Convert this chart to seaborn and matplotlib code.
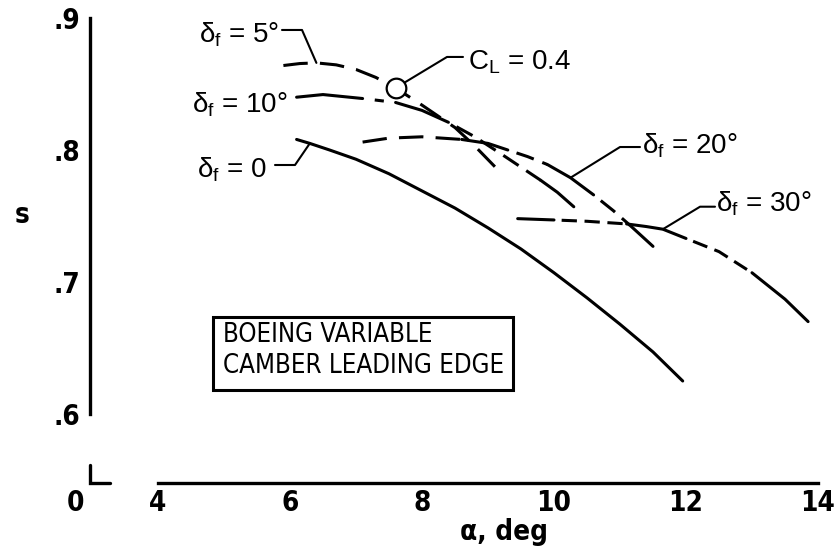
import matplotlib
matplotlib.use("Agg")
import matplotlib.pyplot as plt
from matplotlib import font_manager as fm
from matplotlib.patches import Rectangle
import pandas as pd
import seaborn as sns

# Suction parameter s against angle of attack for each leading-edge flap setting
alpha_f0 = [6.1, 6.3, 6.6, 7.0, 7.5, 8.0, 8.5, 9.0, 9.5, 10.0, 10.5, 11.0, 11.5, 11.95]
s_f0 = [0.808, 0.805, 0.800, 0.793, 0.782, 0.769, 0.756, 0.741, 0.725, 0.707, 0.688, 0.668, 0.647, 0.625]

alpha_f5 = [5.9, 6.15, 6.4, 6.7, 7.0, 7.3, 7.6, 8.0, 8.5, 8.8, 9.15]
s_f5 = [0.864, 0.8655, 0.866, 0.8645, 0.861, 0.855, 0.847, 0.834, 0.817, 0.803, 0.785]

alpha_f10 = [6.1, 6.5, 7.1, 7.6, 8.0, 8.4, 8.8, 9.2, 9.5, 9.8, 10.05, 10.3]
s_f10 = [0.840, 0.842, 0.839, 0.836, 0.830, 0.821, 0.810, 0.797, 0.787, 0.777, 0.768, 0.757]

alpha_f20 = [7.1, 7.5, 8.0, 8.6, 9.0, 9.3, 9.6, 9.9, 10.25, 10.6, 10.9, 11.15, 11.5]
s_f20 = [0.806, 0.809, 0.810, 0.808, 0.805, 0.800, 0.795, 0.789, 0.779, 0.766, 0.754, 0.743, 0.727]

alpha_f30 = [9.45, 10.0, 10.5, 11.1, 11.4, 11.65, 12.0, 12.5, 13.0, 13.5, 13.85]
s_f30 = [0.748, 0.747, 0.746, 0.744, 0.742, 0.740, 0.733, 0.723, 0.707, 0.687, 0.670]

# lift-coefficient point marked on the 5 deg curve
cl_alpha = 7.6
cl_s = 0.847
cl_value = "0.4"

flap_settings = ["0", "5°", "10°", "20°", "30°"]
x_ticks = [4, 6, 8, 10, 12, 14]
y_ticks = [0.6, 0.7, 0.8, 0.9]
y_tick_labels = [".6", ".7", ".8", ".9"]
note_text = "BOEING VARIABLE\nCAMBER LEADING EDGE"

curves = dict(zip(flap_settings, [(alpha_f0, s_f0), (alpha_f5, s_f5), (alpha_f10, s_f10),
                                  (alpha_f20, s_f20), (alpha_f30, s_f30)]))
df = pd.concat(
    [pd.DataFrame({"flap": k, "alpha": a, "s": s}) for k, (a, s) in curves.items()],
    ignore_index=True,
)

# solid / dashed pieces of each curve, as alpha ranges
line_pieces = {
    "0": [(6.1, 11.95, "solid")],
    "5°": [(5.9, 9.15, "long")],
    "10°": [(6.1, 7.1, "solid"), (7.1, 7.6, "sparse"), (7.6, 8.4, "solid"),
            (8.4, 9.8, "dash"), (9.8, 10.3, "solid")],
    "20°": [(7.1, 8.6, "long"), (8.6, 9.3, "solid"), (9.3, 9.9, "dash"),
            (9.9, 10.6, "solid"), (10.6, 11.15, "dash"), (11.15, 11.5, "solid")],
    "30°": [(9.45, 10.0, "solid"), (10.0, 11.1, "short"), (11.1, 12.0, "solid"),
            (12.0, 13.0, "short"), (13.0, 13.85, "solid")],
}
dash_patterns = {"long": (8, 4), "dash": (6, 3), "short": (5, 2.5), "sparse": (3, 4)}

DPI = 100
PX = 72 / DPI
LW = 2.2
BIG = 20

# narrow lettering if the system has a condensed face
_faces = fm.fontManager.ttflist
_names = {f.name for f in _faces}
if "Liberation Sans Narrow" in _names:
    NARROW = dict(family=["Liberation Sans Narrow", "DejaVu Sans"])
elif any(f.name == "DejaVu Sans" and f.stretch == "condensed" for f in _faces):
    NARROW = dict(family=["DejaVu Sans"], stretch="condensed")
elif "Roboto Condensed" in _names:
    NARROW = dict(family=["Roboto Condensed", "DejaVu Sans"])
else:
    NARROW = dict(family=["Liberation Sans", "DejaVu Sans"])
LABEL_FAMILY = ["Liberation Sans", "DejaVu Sans"]

sns.set_theme(style="white")
plt.rcParams.update({
    "font.family": NARROW["family"],
    "font.stretch": NARROW.get("stretch", "normal"),
    "mathtext.fontset": "custom",
    "mathtext.default": "regular",
    "mathtext.rm": "Liberation Sans",
    "mathtext.it": "Liberation Sans",
    "mathtext.bf": "Liberation Sans:bold",
    "text.color": "black",
    "axes.labelcolor": "black",
    "xtick.color": "black",
    "ytick.color": "black",
    "axes.edgecolor": "black",
    "axes.linewidth": 2.4,
})

fig = plt.figure(figsize=(8.4, 5.6), dpi=DPI)
ax = fig.add_axes([90 / 840, 77 / 560, 728 / 840, 465 / 560])
x_lim = (4 - 68 / 66, 14.0)
y_lim = (0.9 - 465 / 1320, 0.9)

for flap, pieces in line_pieces.items():
    sub = df[df["flap"] == flap]
    for i, (a0, a1, kind) in enumerate(pieces):
        seg = sub[(sub["alpha"] >= a0 - 1e-9) & (sub["alpha"] <= a1 + 1e-9)]
        if kind == "solid":
            ls = "-"
        else:
            on, off = dash_patterns[kind]
            ls = (on if i > 0 else 0, (on, off))
        sns.lineplot(data=seg, x="alpha", y="s", ax=ax, color="black",
                     linewidth=LW, linestyle=ls, estimator=None, sort=False,
                     legend=False)

sns.scatterplot(x=[cl_alpha], y=[cl_s], ax=ax, s=200, facecolor="white",
                edgecolor="black", linewidth=1.6, zorder=6, legend=False)


def leader(xy, start_px, angle, shrink_px=0.0):
    ax.annotate("", xy=xy, xytext=(start_px[0] * PX, start_px[1] * PX),
                textcoords="offset points",
                arrowprops=dict(arrowstyle="-", color="black", lw=1.5,
                                connectionstyle=f"angle,angleA=0,angleB={angle},rad=0",
                                shrinkA=0, shrinkB=shrink_px * PX))


def label(xy, text, off_px, ha):
    ax.annotate(text, xy=xy, xytext=(off_px[0] * PX, off_px[1] * PX),
                textcoords="offset points", ha=ha, va="baseline",
                fontsize=BIG, family=LABEL_FAMILY, stretch="normal")


def point(flap, idx):
    a, s = curves[flap]
    return (a[idx], s[idx])


delta = r"$\delta_f$ = "
label(point("0", 1), delta + flap_settings[0], (-42.8, -34.6), "right")
leader(point("0", 1), (-34.8, -21.6), -124.4)

label(point("5°", 2), delta + flap_settings[1], (-37.4, 19.9), "right")
leader(point("5°", 2), (-34.4, 32.9), 113.6)

label(point("10°", 0), delta + flap_settings[2], (-8.8, -15.8), "right")

label(point("20°", 8), delta + flap_settings[3], (71.5, 24.7), "left")
leader(point("20°", 8), (69.5, 30.7), 31.8)

label(point("30°", 5), delta + flap_settings[4], (53.0, 17.2), "left")
leader(point("30°", 5), (52.1, 22.5), 31.2)

label((cl_alpha, cl_s), r"$C_L$ = " + cl_value, (72.4, 18.0), "left")
leader((cl_alpha, cl_s), (67.4, 31.0), 31.1, shrink_px=10)

# note box
box_x0, box_x1 = 4 + (213 - 158) / 66, 4 + (513 - 158) / 66
box_y0, box_y1 = 0.9 - (390 - 18) / 1320, 0.9 - (317 - 18) / 1320
ax.add_patch(Rectangle((box_x0, box_y0), box_x1 - box_x0, box_y1 - box_y0,
                       fill=False, edgecolor="black", linewidth=2.2, zorder=4))
note = ax.text(box_x0 + 10 / 66, box_y1 - 5 / 1320, note_text, ha="left", va="top",
               fontsize=BIG, linespacing=1.27, zorder=5)

# axes: broken x-axis with the origin marked separately
ax.set_xlim(*x_lim)
ax.set_ylim(*y_lim)
sns.despine(ax=ax)
ax.spines["left"].set_bounds(0.6, 0.9)
ax.spines["bottom"].set_bounds(4, 14)
ax.set_xticks(x_ticks, labels=[str(t) for t in x_ticks], fontsize=BIG, fontweight="bold")
ax.set_yticks(y_ticks, labels=y_tick_labels, fontsize=BIG, fontweight="bold")
ax.tick_params(axis="both", direction="in", length=13.5, width=1.8, color="black")
ax.tick_params(axis="x", pad=4)
ax.tick_params(axis="y", pad=7)

ax.plot([x_lim[0], x_lim[0], x_lim[0] + 20 / 66],
        [y_lim[0] + 18 / 1320, y_lim[0], y_lim[0]],
        color="black", lw=2.4, clip_on=False, solid_joinstyle="miter")
ax.annotate("0", xy=(x_lim[0], 0), xycoords=("data", "axes fraction"),
            xytext=(-15 * PX, -4), textcoords="offset points", ha="center",
            va="top", fontsize=BIG, fontweight="bold", annotation_clip=False)

ax.set_xlabel("α, deg", fontsize=BIG, fontweight="bold")
ax.xaxis.set_label_coords((504 - 90) / 728, -0.075)
ax.set_ylabel("s", fontsize=BIG, fontweight="bold", rotation=0, va="center", ha="center")
ax.yaxis.set_label_coords((22 - 90) / 728, (483 - 215) / 465)

# keep the note inside its frame whatever face was picked
fig.canvas.draw()
box_px = ax.transData.transform([(box_x0, box_y0), (box_x1, box_y1)])
avail = box_px[1][0] - box_px[0][0] - 18
width = note.get_window_extent().width
if width > avail:
    note.set_fontsize(BIG * avail / width)

fig.savefig("out.png", dpi=DPI, facecolor="white")
